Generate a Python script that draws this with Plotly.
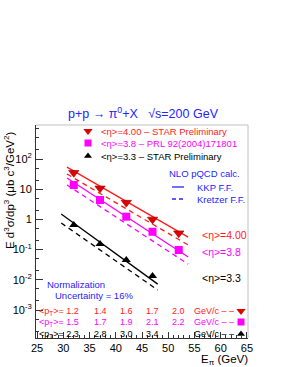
import plotly.graph_objects as go

# ---------------- data ----------------
E_pts = [32, 37, 42, 47, 52]
eta400_vals = [35, 10.7, 3.6, 1.0, 0.35]
eta38_vals = [13.8, 4.4, 1.23, 0.39, 0.097]
E_pts33 = [32, 37, 42, 47]
eta33_vals = [0.65, 0.153, 0.045, 0.0134]

E_line_fwd = [30.7, 53.8]
kkp_400 = [54, 0.26]
kre_400 = [31.8, 0.142]
kkp_38 = [23.5, 0.057]
kre_38 = [13.8, 0.033]
E_line_33 = [29.6, 48.0]
kkp_33 = [1.5, 0.0072]
kre_33 = [0.76, 0.0046]

pt_400 = ["1.2", "1.4", "1.6", "1.7", "2.0"]
pt_38 = ["1.5", "1.7", "1.9", "2.1", "2.2"]
pt_33 = ["2.3", "2.8", "3.0", "3.4"]

y_tickvals = [1e-3, 1e-2, 1e-1, 1, 10, 100]
y_ticktext = ["10<sup>-3</sup>", "10<sup>-2</sup>", "10<sup>-1</sup>", "1", "10", "10<sup>2</sup>"]

# ---------------- geometry ----------------
W, H = 284, 367
X0, X1, Y0, Y1 = 36, 248, 125, 338
xr = [24.8, 65.2]
yr = [-3.927, 3.126]

def px2E(px):
    return xr[0] + (px - X0) / (X1 - X0) * (xr[1] - xr[0])

def py2v(py):
    return 10 ** (yr[1] - (py - Y0) / (Y1 - Y0) * (yr[1] - yr[0]))

def pxp(px):
    return (px - X0) / (X1 - X0)

def pyp(py):
    return (Y1 - py) / (Y1 - Y0)

RED = "#ff1a1a"
MAG = "#ff00ff"
BLUE = "#2424ff"
BLK = "#000000"
FONT = "Liberation Sans, Arial, sans-serif"
DASH = "5px,4px"

fig = go.Figure()

# theory lines
for xs, ys, col, dash in [
    (E_line_fwd, kkp_400, RED, "solid"),
    (E_line_fwd, kre_400, RED, DASH),
    (E_line_fwd, kkp_38, MAG, "solid"),
    (E_line_fwd, kre_38, MAG, DASH),
    (E_line_33, kkp_33, BLK, "solid"),
    (E_line_33, kre_33, BLK, DASH),
]:
    fig.add_trace(go.Scatter(x=xs, y=ys, mode="lines",
                             line=dict(color=col, width=1.3, dash=dash),
                             showlegend=False, hoverinfo="skip"))

# data points
fig.add_trace(go.Scatter(x=E_pts, y=eta400_vals, mode="markers",
                         marker=dict(symbol="triangle-down", size=9, color="#e00000",
                                     line=dict(color="#900000", width=0.6)),
                         showlegend=False))
fig.add_trace(go.Scatter(x=E_pts, y=eta38_vals, mode="markers",
                         marker=dict(symbol="square", size=8, color=MAG,
                                     line=dict(color=MAG, width=0)),
                         showlegend=False))
fig.add_trace(go.Scatter(x=E_pts33, y=eta33_vals, mode="markers",
                         marker=dict(symbol="triangle-up", size=8, color=BLK),
                         showlegend=False))

# legend / row markers (placed through the axes)
leg_px = [(88, 131, "triangle-down", "#e00000", 8), (88, 143, "square", MAG, 7),
          (88, 156, "triangle-up", BLK, 7),
          (241, 311, "triangle-down", "#e00000", 8), (241, 322, "square", MAG, 7),
          (241, 334, "triangle-up", BLK, 7)]
for px, py, sym, col, sz in leg_px:
    fig.add_trace(go.Scatter(x=[px2E(px)], y=[py2v(py)], mode="markers",
                             marker=dict(symbol=sym, size=sz, color=col),
                             cliponaxis=False, showlegend=False, hoverinfo="skip"))

ann = []
def text(px, py, s, col, size, anchor="left", angle=0):
    ann.append(dict(x=pxp(px), y=pyp(py), xref="paper", yref="paper", text=s,
                    showarrow=False, xanchor=anchor, yanchor="middle",
                    textangle=angle, font=dict(family=FONT, size=size, color=col)))

# title
text(143, 113, "p+p → π<sup>0</sup>+X   √s=200 GeV", BLUE, 12.5, "center")
# legend
text(99, 131, "&lt;η&gt;=4.00 – STAR Preliminary", RED, 9.5)
text(99, 143, "&lt;η&gt;=3.8 – PRL 92(2004)171801", MAG, 9.5)
text(99, 156, "&lt;η&gt;=3.3 – STAR Preliminary", BLK, 9.5)
text(167, 173, "NLO pQCD calc.", BLUE, 9.5)
text(195, 187, "KKP F.F.", BLUE, 9.5)
text(195, 199, "Kretzer F.F.", BLUE, 9.5)
# right labels
text(200, 235, "&lt;η&gt;=4.00", RED, 10.5)
text(200, 252, "&lt;η&gt;=3.8", MAG, 10.5)
text(200, 278, "&lt;η&gt;=3.3", BLK, 10.5)
# normalization
text(45, 284, "Normalization", BLUE, 9.5)
text(53, 295, "Uncertainty = 16%", BLUE, 9.5)
# pT rows
for py, vals, col in [(311, pt_400, RED), (322, pt_38, MAG), (334, pt_33, BLK)]:
    text(37, py, "&lt;p<sub>T</sub>&gt;= " + vals[0], col, 9)
    for e, v in zip(E_pts[1:], vals[1:]):
        ann.append(dict(x=e, y=pyp(py), xref="x", yref="paper", text=v,
                        showarrow=False, xanchor="center", yanchor="middle",
                        font=dict(family=FONT, size=9, color=col)))
    text(192, py, "GeV/c – –", col, 9)
# axis titles
text(250, 360, "E<sub>π</sub> (GeV)", BLK, 11.5, "right")
text(9, 190, "E d<sup>3</sup>σ/dp<sup>3</sup> (μb c<sup>3</sup>/GeV<sup>2</sup>)", BLK, 11.5, "center", -90)

shapes = [
    dict(type="line", xref="paper", yref="paper", x0=0, x1=1, y0=1, y1=1,
         line=dict(color="#c0c0c0", width=1)),
    dict(type="line", xref="paper", yref="paper", x0=1, x1=1, y0=0, y1=1,
         line=dict(color="#c0c0c0", width=1)),
    dict(type="line", xref="paper", yref="paper", x0=pxp(172), x1=pxp(184),
         y0=pyp(187), y1=pyp(187), line=dict(color=BLUE, width=1.3)),
    dict(type="line", xref="paper", yref="paper", x0=pxp(172), x1=pxp(186),
         y0=pyp(199), y1=pyp(199), line=dict(color=BLUE, width=1.3, dash="4px,3px")),
]

fig.update_layout(
    width=W, height=H,
    margin=dict(l=X0, r=W - X1, t=Y0, b=H - Y1),
    paper_bgcolor="white", plot_bgcolor="white",
    annotations=ann, shapes=shapes,
    font=dict(family=FONT, color=BLK),
    xaxis=dict(range=xr, tickvals=[25, 30, 35, 40, 45, 50, 55, 60, 65],
               ticks="inside", ticklen=6, tickcolor="#333",
               showline=True, linecolor="#333", linewidth=1, mirror=False,
               showgrid=False, zeroline=False,
               tickfont=dict(family=FONT, size=11, color=BLK),
               minor=dict(dtick=1, ticks="inside", ticklen=3, tickcolor="#333", showgrid=False)),
    yaxis=dict(type="log", range=yr, tickvals=y_tickvals, ticktext=y_ticktext,
               ticks="inside", ticklen=7, tickcolor="#333",
               showline=True, linecolor="#333", linewidth=1, mirror=False,
               showgrid=False, zeroline=False, ticklabelstandoff=1,
               tickfont=dict(family=FONT, size=11, color=BLK),
               minor=dict(ticks="inside", ticklen=3, tickcolor="#333", showgrid=False)),
)

fig.write_html("out.html", config={"displayModeBar": False},
               post_script="document.body.style.margin='0';document.body.style.padding='0';")
